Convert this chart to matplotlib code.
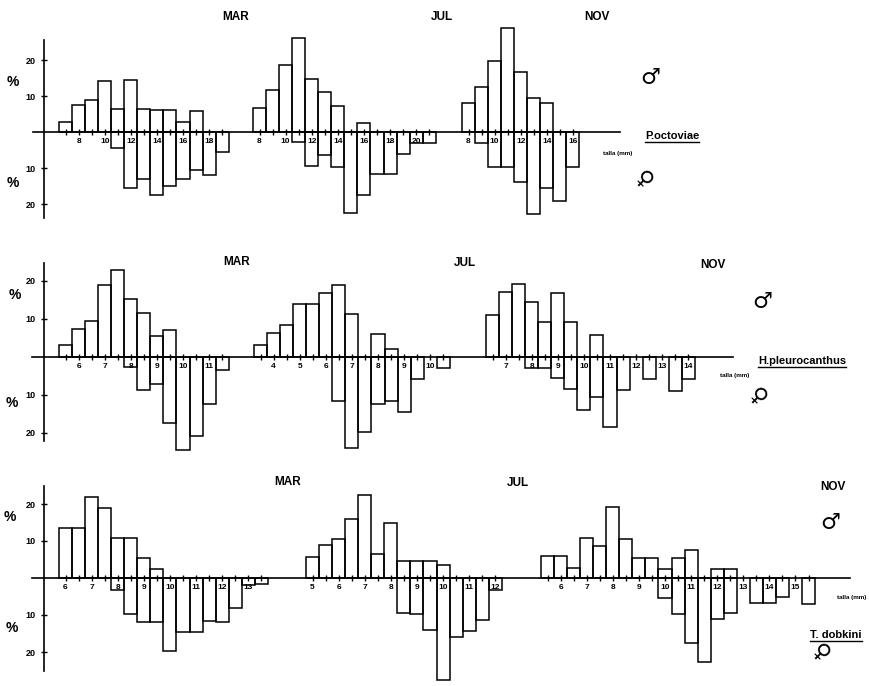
import matplotlib
matplotlib.use("Agg")
import matplotlib.pyplot as plt
from matplotlib.lines import Line2D
import numpy as np

W, H, DPI = 869, 686, 100
FONT = ['Liberation Sans Narrow', 'Liberation Sans', 'DejaVu Sans']
plt.rcParams['font.family'] = FONT

# ---------------- DATA ----------------
species = ["P.octoviae", "H.pleurocanthus", "T. dobkini"]
months = ["MAR", "JUL", "NOV"]
xlabel = "talla (mm)"

# Row 1 : P. octoviae (1 mm classes)
po_mar_sizes = [7, 8, 9, 10, 11, 12, 13, 14, 15, 16, 17, 18, 19]
po_mar_male = [2.8, 7.6, 9.0, 14.2, 6.3, 14.4, 6.3, 6.1, 6.1, 2.9, 5.9, 0, 0]
po_mar_female = [0, 0, 0, 0, 4.4, 15.6, 13.0, 17.6, 15.1, 13.1, 10.6, 11.9, 5.6]

po_jul_sizes = [8, 9, 10, 11, 12, 13, 14, 15, 16, 17, 18, 19, 20, 21]
po_jul_male = [6.7, 11.8, 18.7, 26.1, 14.7, 11.1, 7.1, 0, 2.5, 0, 0, 0, 0, 0]
po_jul_female = [0, 0, 0, 2.8, 9.5, 6.5, 9.8, 22.5, 17.4, 11.7, 11.7, 6.2, 3.0, 3.0]

po_nov_sizes = [8, 9, 10, 11, 12, 13, 14, 15, 16]
po_nov_male = [8.0, 12.6, 19.7, 29.0, 16.7, 9.4, 8.0, 0, 0]
po_nov_female = [0, 3.0, 9.7, 9.7, 14.0, 22.9, 15.6, 19.2, 9.6]

# Row 2 : H. pleurocanthus (0.5 mm classes)
hp_mar_sizes = [5.5, 6, 6.5, 7, 7.5, 8, 8.5, 9, 9.5, 10, 10.5, 11, 11.5]
hp_mar_male = [3.1, 7.4, 9.6, 18.9, 22.8, 15.3, 11.6, 5.6, 7.2, 0, 0, 0, 0]
hp_mar_female = [0, 0, 0, 0, 0, 2.6, 8.6, 7.2, 17.4, 24.5, 20.8, 12.4, 3.3]

hp_jul_sizes = [3.5, 4, 4.5, 5, 5.5, 6, 6.5, 7, 7.5, 8, 8.5, 9, 9.5, 10, 10.5]
hp_jul_male = [3.1, 6.3, 8.3, 14.0, 14.0, 16.9, 18.9, 11.2, 0, 6.0, 2.0, 0, 0, 0, 0]
hp_jul_female = [0, 0, 0, 0, 0, 0, 11.6, 24.0, 19.7, 12.4, 11.6, 14.5, 5.7, 0, 3.0]

hp_nov_sizes = [6.5, 7, 7.5, 8, 8.5, 9, 9.5, 10, 10.5, 11, 11.5, 12, 12.5, 13, 13.5, 14]
hp_nov_male = [11.1, 17.0, 19.2, 14.5, 9.2, 16.8, 9.2, 0, 5.9, 0, 0, 0, 0, 0, 0, 0]
hp_nov_female = [0, 0, 0, 2.9, 2.9, 5.5, 8.4, 13.9, 10.6, 18.4, 8.8, 0, 5.7, 0, 9.0, 5.7]

# Row 3 : T. dobkini (0.5 mm classes)
td_mar_sizes = [6, 6.5, 7, 7.5, 8, 8.5, 9, 9.5, 10, 10.5, 11, 11.5, 12, 12.5, 13, 13.5]
td_mar_male = [13.6, 13.5, 22.0, 18.8, 10.9, 10.9, 5.5, 2.5, 0, 0, 0, 0, 0, 0, 0, 0]
td_mar_female = [0, 0, 0, 0, 3.3, 9.6, 11.8, 11.8, 19.6, 14.7, 14.7, 11.6, 12.0, 8.0, 1.8, 1.5]

td_jul_sizes = [5, 5.5, 6, 6.5, 7, 7.5, 8, 8.5, 9, 9.5, 10, 10.5, 11, 11.5, 12]
td_jul_male = [5.7, 8.8, 10.6, 15.9, 22.5, 6.6, 14.8, 4.5, 4.5, 4.5, 3.6, 0, 0, 0, 0]
td_jul_female = [0, 0, 0, 0, 0, 0, 0, 9.4, 9.6, 14.0, 27.7, 16.0, 14.3, 11.3, 3.3]

td_nov_sizes = [5.5, 6, 6.5, 7, 7.5, 8, 8.5, 9, 9.5, 10, 10.5, 11, 11.5, 12, 12.5,
                13, 13.5, 14, 14.5, 15, 15.5]
td_nov_male = [5.9, 5.9, 2.7, 10.9, 8.6, 19.1, 10.5, 5.3, 5.5, 2.3, 5.3, 7.5, 0, 2.5, 2.5,
               0, 0, 0, 0, 0, 0]
td_nov_female = [0, 0, 0, 0, 0, 0, 0, 0, 0, 5.4, 9.8, 17.6, 22.6, 11.2, 9.4,
                 0, 6.8, 6.8, 5.1, 0, 7.0]

# ---------------- LAYOUT ----------------
BAR_W = 13.05
rows = [
    dict(groups=[(po_mar_sizes, po_mar_male, po_mar_female),
                 (po_jul_sizes, po_jul_male, po_jul_female),
                 (po_nov_sizes, po_nov_male, po_nov_female)],
         label_step=2, span=(0, 228), base=132, scale=3.6, x0=[59, 253, 462],
         line=(33, 620), yspine=(-24, 25.5),
         month_pos=[(236, 17), (442, 17), (597, 17)],
         pct_pos=[(13, 82), (13, 183)],
         name_pos=(645, 136), talla_pos=(603, 154),
         male_pos=(650, 78), female_pos=(643, 180)),
    dict(groups=[(hp_mar_sizes, hp_mar_male, hp_mar_female),
                 (hp_jul_sizes, hp_jul_male, hp_jul_female),
                 (hp_nov_sizes, hp_nov_male, hp_nov_female)],
         label_step=1, span=(228, 460), base=357, scale=3.8, x0=[59, 254, 486],
         line=(32, 733), yspine=(-22, 24.7),
         month_pos=[(237, 262), (465, 263), (713, 265)],
         pct_pos=[(15, 295), (12, 403)],
         name_pos=(758, 361), talla_pos=(720, 376),
         male_pos=(762, 302), female_pos=(757, 397)),
    dict(groups=[(td_mar_sizes, td_mar_male, td_mar_female),
                 (td_jul_sizes, td_jul_male, td_jul_female),
                 (td_nov_sizes, td_nov_male, td_nov_female)],
         label_step=1, span=(460, 686), base=578, scale=3.7, x0=[59, 306, 541],
         line=(32, 850), yspine=(-25, 25),
         month_pos=[(288, 482), (518, 483), (833, 487)],
         pct_pos=[(10, 517), (12, 628)],
         name_pos=(810, 635), talla_pos=(837, 597),
         male_pos=(830, 523), female_pos=(820, 653)),
]

fig = plt.figure(figsize=(W / DPI, H / DPI), dpi=DPI)
fig.patch.set_facecolor('white')


def fxy(x, y):
    return x / W, 1 - y / H


name_texts = []
for r, row in enumerate(rows):
    top, bot = row['span']
    base, s = row['base'], row['scale']
    ax = fig.add_axes([0, 1 - bot / H, 1, (bot - top) / H])
    ax.set_xlim(0, W)
    ax.set_ylim(-(bot - base) / s, (base - top) / s)
    ax.patch.set_visible(False)

    major_pos, major_lab, minor_pos = [], [], []
    for g, (sizes, male, female) in enumerate(row['groups']):
        sizes = np.asarray(sizes, float)
        male = np.asarray(male, float)
        female = np.asarray(female, float)
        centers = row['x0'][g] + BAR_W * (np.arange(len(sizes)) + 0.5)
        m = male > 0
        ax.bar(centers[m], male[m], width=BAR_W, facecolor='none',
               edgecolor='black', linewidth=1.1)
        f = female > 0
        ax.bar(centers[f], -female[f], width=BAR_W, facecolor='none',
               edgecolor='black', linewidth=1.1)
        for c, sz in zip(centers, sizes):
            if abs(sz / row['label_step'] - round(sz / row['label_step'])) < 1e-6:
                major_pos.append(c)
                major_lab.append(str(int(round(sz))))
            else:
                minor_pos.append(c)

    for side in ('top', 'right'):
        ax.spines[side].set_visible(False)
    ax.spines['bottom'].set_position(('data', 0))
    ax.spines['bottom'].set_bounds(*row['line'])
    ax.spines['bottom'].set_linewidth(1.2)
    ax.spines['left'].set_position(('data', 44))
    ax.spines['left'].set_bounds(*row['yspine'])
    ax.spines['left'].set_linewidth(1.2)

    ax.set_xticks(major_pos)
    ax.set_xticklabels(major_lab, fontsize=6, fontweight='bold')
    ax.set_xticks(minor_pos, minor=True)
    ax.tick_params(axis='x', which='both', direction='inout', length=5,
                   width=1.0, pad=1.5)

    ax.set_yticks([-20, -10, 10, 20])
    ax.set_yticklabels(['20', '10', '10', '20'], fontsize=6.5, fontweight='bold')
    ax.tick_params(axis='y', direction='inout', length=4, width=1.0, pad=4)

    for mon, (mx, my) in zip(months, row['month_pos']):
        fig.text(*fxy(mx, my), mon, ha='center', va='center', fontsize=8.5,
                 fontweight='bold')
    for (px, py) in row['pct_pos']:
        fig.text(*fxy(px, py), '%', ha='center', va='center', fontsize=10,
                 fontweight='bold')
    t = fig.text(*fxy(*row['name_pos']), species[r], ha='left', va='center',
                 fontsize=8, fontweight='bold')
    name_texts.append(t)
    fig.text(*fxy(*row['talla_pos']), xlabel, ha='left', va='center',
             fontsize=4.5, fontweight='bold')
    fig.text(*fxy(*row['male_pos']), '\u2642', ha='center', va='center',
             fontsize=16, fontweight='bold', family=['DejaVu Sans'])
    fig.text(*fxy(*row['female_pos']), '\u2640', ha='center', va='center',
             fontsize=16, fontweight='bold', rotation=-45, family=['DejaVu Sans'])

# underline species names
fig.canvas.draw()
renderer = fig.canvas.get_renderer()
inv = fig.transFigure.inverted()
for t in name_texts:
    bb = t.get_window_extent(renderer)
    (x0, y0), (x1, _) = inv.transform([(bb.x0, bb.y0 - 1), (bb.x1, bb.y0 - 1)])
    fig.add_artist(Line2D([x0, x1], [y0, y0], transform=fig.transFigure,
                          color='black', linewidth=1.0))

fig.savefig('out.png', dpi=DPI, facecolor='white')
